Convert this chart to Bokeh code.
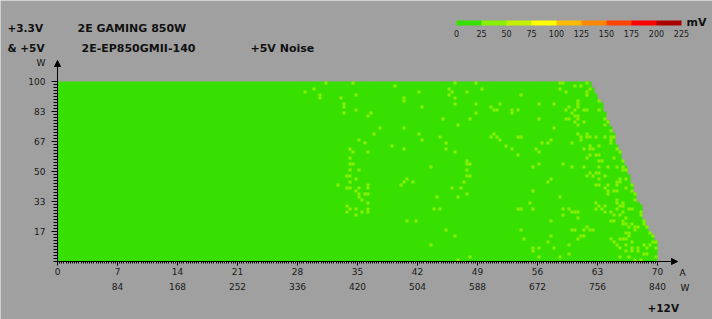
from bokeh.plotting import figure
from bokeh.models import (Range1d, FixedTicker, LinearAxis, CustomJSTickFormatter, Label,
                          Arrow, NormalHead, ColorBar, LinearColorMapper)
from bokeh.embed import file_html
from bokeh.resources import INLINE

# ---------------- data ----------------
AMP_STEP = 0.35          # +12V current increment of the test grid (A)
LOAD_STEP = 100 / 60     # +3.3V & +5V load increment (% of 100 W scale)

# lower edge of each load row (top row first)
load_rows = [98.33, 96.67, 95.0, 93.33, 91.67, 90.0, 88.33, 86.67, 85.0, 83.33,
             81.67, 80.0, 78.33, 76.67, 75.0, 73.33, 71.67, 70.0, 68.33, 66.67,
             65.0, 63.33, 61.67, 60.0, 58.33, 56.67, 55.0, 53.33, 51.67, 50.0,
             48.33, 46.67, 45.0, 43.33, 41.67, 40.0, 38.33, 36.67, 35.0, 33.33,
             31.67, 30.0, 28.33, 26.67, 25.0, 23.33, 21.67, 20.0, 18.33, 16.67,
             15.0, 13.33, 11.67, 10.0, 8.33, 6.67, 5.0, 3.33, 1.67, 0.0]
# highest +12V current tested in each load row (A)
row_max_amps = [62.3, 62.3, 62.65, 62.65, 63.0, 63.0, 63.35, 63.7, 63.7, 63.7,
                64.05, 64.05, 64.05, 64.4, 64.4, 64.75, 64.75, 65.1, 65.1, 65.1,
                65.1, 65.45, 65.45, 65.8, 65.8, 65.8, 66.15, 66.15, 66.5, 66.5,
                66.5, 66.85, 66.85, 66.85, 67.2, 67.2, 67.2, 67.55, 67.55, 67.55,
                67.9, 68.25, 68.25, 68.25, 68.25, 68.25, 68.6, 68.6, 68.95, 68.95,
                69.3, 69.65, 69.65, 70.0, 70.0, 70.0, 70.0, 70.0, 70.0, 70.0]

# cells measuring 25-50 mV (amps, load); all other cells are 0-25 mV
noise_25_50 = [
    (31.15, 98.33), (34.3, 98.33), (46.2, 98.33), (48.65, 98.33), (58.45, 98.33), (58.8, 98.33), (61.6, 98.33),
    (39.2, 96.67), (60.2, 96.67), (60.9, 96.67),
    (29.75, 95.0), (45.5, 95.0), (49.35, 95.0), (58.45, 95.0), (61.95, 95.0),
    (28.7, 93.33), (42.0, 93.33), (45.85, 93.33), (47.6, 93.33), (59.15, 93.33), (61.6, 93.33),
    (30.45, 91.67), (34.65, 91.67), (45.5, 91.67), (53.9, 91.67), (61.6, 91.67),
    (30.45, 90.0), (32.9, 90.0), (40.25, 90.0), (46.2, 90.0),
    (40.25, 88.33), (60.55, 88.33), (63.0, 88.33),
    (33.25, 86.67), (46.2, 86.67), (48.65, 86.67), (51.45, 86.67), (56.0, 86.67), (57.75, 86.67), (60.55, 86.67),
    (33.25, 85.0), (42.35, 85.0), (50.4, 85.0), (59.5, 85.0), (60.55, 85.0),
    (34.65, 83.33), (50.75, 83.33), (51.1, 83.33), (52.85, 83.33), (53.55, 83.33), (59.15, 83.33), (60.2, 83.33),
    (61.25, 83.33), (61.6, 83.33), (63.0, 83.33),
    (33.25, 81.67), (36.4, 81.67), (48.65, 81.67), (52.85, 81.67), (59.85, 81.67),
    (36.05, 80.0), (60.2, 80.0), (60.55, 80.0),
    (44.8, 78.33), (47.95, 78.33), (56.0, 78.33), (59.15, 78.33), (59.5, 78.33), (60.55, 78.33), (63.7, 78.33),
    (60.2, 76.67), (61.25, 76.67), (64.05, 76.67),
    (46.55, 75.0), (60.55, 75.0), (63.7, 75.0),
    (37.45, 73.33), (40.25, 73.33), (57.75, 73.33),
    (64.4, 71.67),
    (36.75, 70.0), (42.0, 70.0), (50.75, 70.0), (60.55, 70.0), (61.6, 70.0),
    (44.45, 68.33), (50.4, 68.33), (51.1, 68.33), (53.55, 68.33), (53.9, 68.33), (60.9, 68.33), (61.6, 68.33),
    (61.95, 68.33), (62.65, 68.33), (63.7, 68.33), (64.4, 68.33), (64.75, 68.33),
    (35.0, 66.67), (42.35, 66.67), (51.45, 66.67), (57.4, 66.67), (60.9, 66.67), (64.4, 66.67),
    (35.7, 65.0), (45.15, 65.0), (56.35, 65.0), (57.05, 65.0), (59.85, 65.0), (64.4, 65.0),
    (38.85, 63.33), (52.15, 63.33), (61.95, 63.33), (63.0, 63.33),
    (33.95, 61.67), (40.25, 61.67), (45.15, 61.67), (52.85, 61.67), (55.65, 61.67), (61.25, 61.67), (61.95, 61.67),
    (62.3, 61.67), (65.1, 61.67),
    (34.3, 60.0), (36.05, 60.0), (46.2, 60.0), (56.0, 60.0), (65.45, 60.0),
    (53.55, 58.33), (61.95, 58.33), (62.65, 58.33), (63.0, 58.33),
    (33.95, 56.67), (61.6, 56.67), (64.75, 56.67),
    (47.6, 55.0), (63.0, 55.0), (63.35, 55.0), (65.8, 55.0),
    (33.95, 53.33), (34.3, 53.33), (47.6, 53.33), (47.95, 53.33), (56.0, 53.33), (58.8, 53.33),
    (43.4, 51.67), (55.3, 51.67), (59.85, 51.67), (61.25, 51.67), (63.0, 51.67), (64.05, 51.67), (65.1, 51.67), (65.8, 51.67),
    (33.95, 50.0), (35.0, 50.0), (47.6, 50.0), (65.8, 50.0), (66.15, 50.0),
    (61.95, 48.33), (62.65, 48.33), (63.0, 48.33),
    (33.6, 46.67), (33.95, 46.67), (47.6, 46.67), (47.95, 46.67), (61.6, 46.67), (62.3, 46.67), (63.7, 46.67),
    (34.65, 45.0), (40.6, 45.0), (57.4, 45.0), (63.0, 45.0), (65.45, 45.0), (66.15, 45.0),
    (33.95, 43.33), (40.25, 43.33), (41.3, 43.33), (47.25, 43.33), (57.05, 43.33), (65.1, 43.33), (65.45, 43.33),
    (32.55, 41.67), (36.05, 41.67), (39.9, 41.67), (62.65, 41.67), (63.0, 41.67), (64.05, 41.67), (65.1, 41.67), (66.85, 41.67),
    (33.6, 40.0), (33.95, 40.0), (35.0, 40.0), (36.05, 40.0), (45.85, 40.0), (46.9, 40.0), (63.7, 40.0), (66.15, 40.0),
    (34.65, 38.33), (55.3, 38.33), (64.05, 38.33), (64.75, 38.33), (65.1, 38.33), (66.85, 38.33),
    (35.0, 36.67), (35.7, 36.67), (36.05, 36.67), (47.6, 36.67), (64.05, 36.67), (67.2, 36.67),
    (35.0, 35.0), (44.1, 35.0), (46.55, 35.0), (58.45, 35.0),
    (35.35, 33.33), (65.1, 33.33), (67.2, 33.33),
    (36.05, 31.67), (54.95, 31.67), (62.65, 31.67), (65.1, 31.67), (65.8, 31.67),
    (33.6, 30.0), (63.0, 30.0), (63.7, 30.0), (65.45, 30.0), (65.8, 30.0),
    (33.95, 28.33), (34.65, 28.33), (36.05, 28.33), (43.75, 28.33), (44.45, 28.33), (53.55, 28.33), (53.9, 28.33),
    (55.3, 28.33), (58.8, 28.33), (59.5, 28.33), (62.65, 28.33), (63.35, 28.33), (65.1, 28.33), (66.5, 28.33), (66.85, 28.33),
    (33.6, 26.67), (35.35, 26.67), (36.05, 26.67), (59.85, 26.67), (60.2, 26.67), (60.55, 26.67), (63.7, 26.67),
    (64.4, 26.67), (65.8, 26.67), (67.9, 26.67),
    (34.65, 25.0), (58.8, 25.0), (64.75, 25.0), (65.45, 25.0), (67.9, 25.0),
    (60.55, 23.33), (66.15, 23.33),
    (40.6, 21.67), (41.65, 21.67), (57.4, 21.67), (64.4, 21.67), (64.75, 21.67), (65.8, 21.67), (68.25, 21.67),
    (65.8, 20.0), (66.15, 20.0), (66.85, 20.0), (68.25, 20.0),
    (61.6, 18.33), (66.5, 18.33), (67.2, 18.33), (67.55, 18.33), (68.6, 18.33),
    (45.15, 16.67), (53.9, 16.67), (59.85, 16.67), (60.2, 16.67), (61.25, 16.67), (61.95, 16.67), (62.3, 16.67), (67.2, 16.67),
    (66.15, 15.0), (66.5, 15.0), (68.95, 15.0),
    (46.2, 13.33), (57.4, 13.33), (60.9, 13.33), (61.25, 13.33), (66.5, 13.33), (69.3, 13.33),
    (54.25, 11.67), (60.55, 11.67), (64.4, 11.67), (65.45, 11.67), (65.8, 11.67), (66.15, 11.67),
    (57.05, 10.0), (64.75, 10.0), (66.85, 10.0), (69.3, 10.0), (69.65, 10.0),
    (43.4, 8.33), (59.5, 8.33), (65.1, 8.33), (66.15, 8.33), (68.25, 8.33), (68.95, 8.33),
    (55.3, 6.67), (56.0, 6.67), (57.75, 6.67), (65.45, 6.67), (66.85, 6.67), (67.55, 6.67), (68.6, 6.67), (69.65, 6.67),
    (55.3, 5.0), (66.15, 5.0), (66.85, 5.0), (67.55, 5.0),
    (59.5, 3.33), (68.25, 3.33), (68.6, 3.33),
    (47.95, 1.67), (56.0, 1.67), (58.45, 1.67), (65.45, 1.67), (66.5, 1.67), (69.65, 1.67),
    (46.55, 0.0), (67.2, 0.0), (67.9, 0.0),
]

x_ticks = [0, 7, 14, 21, 28, 35, 42, 49, 56, 63, 70]          # A on +12V
y_ticks = [100 / 6, 200 / 6, 50.0, 400 / 6, 500 / 6, 100.0]   # labelled 17..100
legend_ticks = [0, 25, 50, 75, 100, 125, 150, 175, 200, 225]  # mV
legend_colors = ["#38e000", "#88f000", "#c4f000", "#ffff00", "#ffbb00",
                 "#ff8800", "#ff4400", "#ff0000", "#aa0000"]

# ---------------- layout ----------------
BG = "#a0a0a0"
X0, Y0 = 57, 261          # pixel of (0 A, 0 %)
SX, SY = 600 / 70, 1.8    # pixels per A, pixels per %
W, H = 712, 319
FONT = "DejaVu Sans"


def dx(px):
    return (px - X0) / SX


def dy(py):
    return (Y0 - py) / SY


p = figure(width=W, height=H, output_backend="svg", toolbar_location=None,
           x_range=Range1d(dx(0), dx(W)), y_range=Range1d(dy(H), dy(0)),
           background_fill_color=BG, border_fill_color=BG, outline_line_color=None,
           min_border=0, min_border_left=0, min_border_right=0, min_border_top=0, min_border_bottom=0)
p.grid.visible = False

# base area (0-25 mV) as staircase polygon
rows_up = sorted(zip(load_rows, row_max_amps))
px_, py_ = [0], [0]
for lo, mx in rows_up:
    px_ += [mx, mx]
    py_ += [lo, lo + LOAD_STEP]
px_.append(0)
py_.append(rows_up[-1][0] + LOAD_STEP)
p.patch(px_, py_, fill_color=legend_colors[0], line_color=None)

# 25-50 mV cells
p.quad(left=[a for a, l in noise_25_50], right=[a + AMP_STEP for a, l in noise_25_50],
       bottom=[l for a, l in noise_25_50], top=[l + LOAD_STEP for a, l in noise_25_50],
       fill_color=legend_colors[1], line_color=None)

# axes (drawn at fixed data locations inside the full-canvas frame)
xa = p.xaxis[0]
xa.fixed_location = 0
xa.ticker = FixedTicker(ticks=x_ticks, minor_ticks=[i * 0.25 for i in range(281)])
xa.bounds = (0, 72.2)
ya = p.yaxis[0]
ya.fixed_location = 0
ya.ticker = FixedTicker(ticks=y_ticks, minor_ticks=[i * LOAD_STEP for i in range(61)])
ya.formatter = CustomJSTickFormatter(code="return String(Math.round(tick));")
ya.bounds = (0, 111.2)
for ax in (xa, ya):
    ax.axis_line_color = "black"
    ax.major_tick_line_color = "black"
    ax.minor_tick_line_color = "black"
    ax.major_tick_in = 0
    ax.minor_tick_in = 0
    ax.major_label_text_font = FONT
    ax.major_label_text_font_size = "9px"
    ax.major_label_text_color = "#1a1a1a"
xa.major_tick_out = 4
xa.minor_tick_out = 2
xa.major_label_standoff = 2
ya.major_tick_out = 6
ya.minor_tick_out = 4
ya.major_label_standoff = 6

wa = LinearAxis(ticker=FixedTicker(ticks=x_ticks), fixed_location=dy(279),
                formatter=CustomJSTickFormatter(code="return tick === 0 ? '' : String(Math.round(tick * 12));"),
                axis_line_color=None, major_tick_line_color=None, minor_tick_line_color=None,
                major_tick_out=0, major_label_standoff=3, major_label_text_font=FONT,
                major_label_text_font_size="9px", major_label_text_color="#1a1a1a")
p.add_layout(wa, "below")

p.add_layout(Arrow(end=NormalHead(size=6, fill_color="black", line_color="black", line_width=1),
                   x_start=71.0, y_start=0, x_end=dx(677), y_end=0, line_color="black", line_width=1))
p.add_layout(Arrow(end=NormalHead(size=6, fill_color="black", line_color="black", line_width=1),
                   x_start=0, y_start=108, x_end=0, y_end=dy(60), line_color="black", line_width=1))

# legend colour bar
mapper = LinearColorMapper(palette=legend_colors, low=legend_ticks[0], high=legend_ticks[-1])
cb = ColorBar(color_mapper=mapper, ticker=FixedTicker(ticks=legend_ticks), orientation="horizontal",
              width=225, height=5, location=(456, 280), padding=0, margin=0, label_standoff=4,
              major_tick_line_color=None, minor_tick_line_color=None, bar_line_color=None,
              border_line_color=None, background_fill_alpha=0,
              major_label_text_font=FONT, major_label_text_font_size="8px",
              major_label_text_color="#1a1a1a")
p.add_layout(cb)


def lab(text, x, y, size="11px", bold=True, align="left"):
    p.add_layout(Label(x=dx(x), y=dy(y), text=text, text_font=FONT, text_font_size=size,
                       text_font_style="bold" if bold else "normal", text_color="#111111",
                       text_align=align, text_baseline="middle"))


lab("+3.3V", 7, 27, size="10.5px")
lab("& +5V", 7, 47, size="10.5px")
lab("W", 36, 62, size="9px", bold=False)
lab("2E GAMING 850W", 77, 28)
lab("2E-EP850GMII-140", 81, 48)
lab("+5V Noise", 250, 48)
lab("mV", 686, 22)
lab("A", 679, 272, size="9px", bold=False)
lab("W", 680, 287, size="9px", bold=False)
lab("+12V", 647, 307, size="10.5px")

open("out.html", "w").write(file_html(p, INLINE))
